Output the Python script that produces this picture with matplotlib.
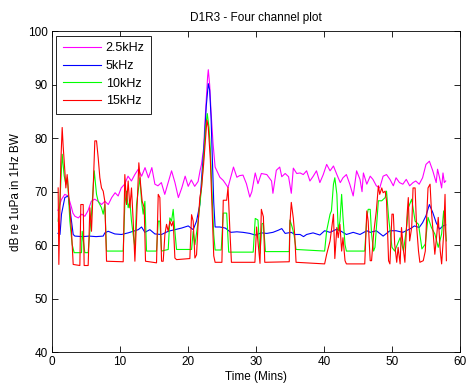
import numpy as np
import matplotlib.pyplot as plt

plt.rcParams['font.family'] = ['Liberation Sans', 'DejaVu Sans']

# 2.5kHz channel (time in minutes, level in dB)
t_25k = [0.9, 1.4, 1.9, 2.4, 2.9, 3.1, 3.4, 3.9, 4.4, 4.85, 5.3, 5.8, 6.3, 6.8,
         7.3, 7.8, 8.3, 8.8, 9.3, 9.75, 10.2, 10.7, 11.2, 11.7, 12.2, 12.7, 13.2,
         13.7, 14.2, 14.7, 15.15, 15.6, 16.1, 16.6, 17.1, 17.6, 18.1, 18.6, 19.1,
         19.6, 20.05, 20.5, 21.0, 21.5, 21.8, 22.0, 22.3, 22.6, 22.9, 23.0, 23.2,
         23.4, 23.7, 24.0, 24.7, 25.2, 25.9, 26.7, 27.2, 27.6, 28.1, 28.6, 29.1,
         29.4, 29.9, 30.3, 30.8, 31.6, 32.3, 32.5, 33.0, 33.5, 33.8, 34.3, 34.8,
         35.2, 35.5, 36.0, 36.5, 36.96, 37.45, 37.94, 38.43, 38.9, 39.4, 39.9,
         40.4, 40.9, 41.4, 41.9, 42.4, 42.8, 43.3, 43.8, 44.3, 44.8, 45.3, 45.6,
         45.8, 46.3, 46.8, 47.2, 47.7, 48.2, 48.7, 49.2, 49.7, 50.2, 50.6, 51.1,
         51.6, 52.1, 52.6, 53.1, 53.5, 54.0, 54.5, 55.0, 55.5, 56.0, 56.5, 56.7,
         57.0, 57.3, 57.5, 57.7, 57.9]
db_25k = [66.5, 68.5, 69.5, 69.2, 67.0, 66.0, 65.4, 65.1, 65.8, 65.4, 66.4, 68.2,
          68.6, 68.2, 67.6, 68.2, 67.6, 68.9, 69.8, 69.2, 70.7, 71.4, 72.9, 72.0,
          73.2, 74.2, 72.9, 74.5, 72.6, 74.5, 71.4, 71.1, 71.7, 69.5, 71.7, 73.9,
          71.7, 68.9, 70.7, 72.9, 71.0, 72.2, 71.0, 71.9, 74.0, 75.1, 78.0, 85.0,
          91.5, 92.8, 90.0, 85.0, 79.0, 74.6, 72.7, 72.1, 70.8, 74.6, 72.7, 73.0,
          73.1, 71.5, 69.0, 70.0, 73.5, 71.5, 73.4, 73.2, 72.0, 69.7, 74.0, 74.6,
          72.8, 73.4, 72.8, 69.7, 74.4, 73.4, 73.5, 73.2, 73.9, 72.0, 72.9, 73.9,
          71.7, 73.2, 75.1, 73.9, 74.8, 73.2, 71.7, 72.6, 73.2, 71.4, 69.2, 73.9,
          72.3, 70.0, 73.5, 71.4, 72.9, 72.3, 71.1, 70.7, 72.9, 73.2, 72.3, 71.1,
          72.6, 71.7, 71.4, 72.3, 71.1, 71.7, 72.0, 71.4, 72.6, 75.1, 75.7, 73.9,
          71.7, 74.2, 72.6, 70.7, 73.5, 71.7, 72.0]

# 5kHz channel
t_5k = [0.9, 1.2, 1.42, 1.91, 2.4, 2.65, 2.89, 3.14, 3.38, 4.5, 5.5, 6.5, 7.55,
        7.79, 8.28, 9.26, 10.24, 11.22, 12.7, 13.19, 13.68, 14.41, 15.15, 16.13,
        17.11, 18.09, 19.07, 20.05, 20.78, 21.27, 21.76, 22.1, 22.4, 22.7, 23.0,
        23.2, 23.4, 23.6, 23.8, 24.0, 24.7, 25.5, 26.3, 27.2, 28.1, 29.1, 29.9,
        30.8, 31.6, 32.5, 33.3, 33.8, 34.3, 35.2, 35.7, 36.5, 37.0, 37.45, 38.4,
        39.4, 40.1, 40.9, 41.9, 42.4, 43.3, 44.3, 45.3, 46.3, 46.8, 47.7, 48.7,
        49.7, 50.6, 51.6, 52.6, 53.3, 54.0, 54.5, 55.0, 55.5, 56.0, 56.5, 57.0,
        57.5, 57.9]
db_5k = [62.2, 62.0, 65.8, 68.9, 69.2, 67.0, 64.5, 62.0, 61.7, 61.6, 61.7, 61.6,
         61.7, 62.3, 62.6, 62.1, 62.0, 62.3, 62.9, 63.4, 62.4, 62.9, 62.1, 62.0,
         62.6, 62.9, 63.2, 63.6, 62.9, 64.5, 67.6, 74.0, 79.0, 86.0, 90.2, 89.0,
         84.0, 76.0, 68.0, 63.4, 63.4, 63.2, 62.4, 62.5, 62.4, 62.2, 61.9, 62.3,
         62.2, 62.4, 62.8, 63.1, 62.2, 62.4, 62.0, 62.0, 61.6, 62.0, 62.3, 61.9,
         62.7, 62.4, 63.0, 62.7, 62.0, 62.4, 62.0, 62.7, 62.4, 62.7, 61.7, 62.7,
         62.7, 62.4, 63.0, 63.6, 63.3, 64.2, 65.5, 67.6, 66.1, 64.2, 63.0, 63.6,
         63.8]

# 10kHz channel
t_10k = [0.93, 1.18, 1.52, 1.81, 2.06, 2.3, 2.65, 2.99, 3.28, 4.36, 4.46, 4.85,
         5.34, 5.59, 5.83, 6.23, 6.57, 6.81, 7.06, 7.3, 7.55, 7.79, 8.04, 10.49,
         10.73, 10.98, 11.22, 11.47, 11.71, 12.21, 12.45, 12.94, 13.19, 13.43,
         13.68, 13.92, 15.39, 15.64, 15.88, 16.13, 17.11, 17.35, 17.6, 17.84,
         18.09, 18.33, 20.54, 20.78, 21.03, 21.52, 22.0, 22.3, 22.6, 22.85, 23.1,
         23.3, 23.6, 23.8, 24.0, 24.9, 25.2, 25.7, 26.0, 29.6, 29.9, 30.3, 30.6,
         30.9, 31.1, 31.4, 34.9, 35.0, 35.3, 35.6, 35.9, 40.1, 40.4, 40.9, 41.1,
         41.4, 41.6, 41.9, 42.1, 42.35, 42.6, 42.8, 43.1, 43.3, 46.0, 46.3, 46.5,
         46.8, 47.0, 47.3, 47.5, 48.0, 48.5, 49.0, 49.2, 49.5, 50.0, 50.4, 51.2,
         51.7, 52.2, 52.4, 52.9, 53.4, 53.9, 54.4, 54.9, 55.3, 55.8, 56.3, 56.8,
         57.3, 57.6, 58.0]
db_10k = [64.5, 68.0, 77.0, 73.0, 71.4, 72.6, 64.5, 60.1, 58.6, 58.6, 62.6, 58.6,
          58.6, 62.6, 65.8, 73.9, 69.5, 68.2, 67.6, 67.0, 65.8, 67.6, 58.9, 58.9,
          67.6, 70.1, 67.0, 68.2, 64.5, 59.5, 67.6, 72.6, 68.2, 65.8, 68.2, 58.9,
          58.9, 64.5, 64.5, 58.9, 59.2, 65.1, 64.5, 66.7, 62.6, 59.2, 59.2, 62.6,
          60.1, 64.5, 70.7, 76.0, 82.0, 84.6, 82.0, 78.0, 68.0, 62.0, 59.1, 59.1,
          66.0, 66.0, 58.7, 58.7, 65.0, 64.7, 58.5, 64.0, 64.1, 58.8, 58.8, 64.7,
          63.5, 62.0, 59.2, 58.9, 62.7, 65.8, 66.4, 71.4, 72.6, 69.5, 62.7, 64.5,
          69.5, 65.2, 60.1, 58.9, 58.9, 65.2, 66.7, 66.7, 62.1, 58.9, 59.6, 68.3,
          68.3, 68.9, 70.1, 65.2, 59.6, 58.9, 61.4, 58.9, 63.9, 67.0, 68.6, 64.5,
          63.9, 59.3, 60.2, 65.2, 63.3, 62.1, 59.6, 62.1, 66.4, 60.8]

# 15kHz channel
t_15k = [0.93, 1.03, 1.32, 1.52, 1.67, 1.91, 2.06, 2.25, 2.4, 2.65, 2.89, 3.14,
         4.12, 4.26, 4.61, 4.75, 5.34, 5.59, 5.83, 6.08, 6.32, 6.57, 6.81, 7.06,
         7.3, 7.55, 7.79, 8.04, 10.49, 10.73, 10.98, 11.22, 11.47, 11.71, 11.96,
         12.21, 12.45, 12.79, 13.09, 13.28, 13.58, 13.77, 15.39, 15.64, 15.88,
         16.13, 16.37, 16.62, 16.86, 17.11, 17.35, 17.6, 17.84, 18.09, 18.33,
         20.29, 20.54, 20.78, 21.03, 21.27, 21.52, 21.76, 22.0, 22.3, 22.6, 22.8,
         23.0, 23.3, 23.6, 23.8, 24.0, 25.0, 25.2, 25.7, 25.9, 26.2, 26.4, 29.85,
         30.1, 30.6, 30.8, 31.1, 31.3, 34.9, 35.0, 35.2, 35.5, 35.7, 35.9, 40.1,
         40.4, 40.9, 41.4, 41.6, 41.9, 42.1, 42.35, 42.6, 42.8, 43.1, 43.3, 46.0,
         46.3, 46.5, 46.8, 47.0, 47.3, 47.7, 48.0, 48.2, 48.5, 48.7, 49.0, 49.2,
         49.5, 49.7, 50.0, 50.2, 50.4, 50.7, 50.9, 51.2, 51.4, 51.7, 51.9, 52.2,
         52.4, 52.6, 52.9, 53.1, 53.4, 53.6, 53.9, 54.1, 54.6, 54.9, 55.1, 55.3,
         55.6, 55.8, 56.1, 56.3, 56.6, 56.8, 57.1, 57.3, 57.6, 57.8, 58.0]
db_15k = [70.7, 56.4, 75.5, 82.0, 78.4, 73.9, 70.7, 73.2, 70.7, 66.4, 62.6, 56.4,
          56.2, 67.6, 67.6, 56.2, 56.2, 67.0, 62.6, 70.7, 79.5, 79.5, 76.4, 72.6,
          70.7, 70.1, 68.2, 57.0, 56.9, 73.2, 67.6, 72.0, 67.0, 70.7, 64.5, 57.0,
          64.5, 75.4, 70.7, 68.2, 67.0, 57.0, 56.7, 69.5, 68.9, 57.0, 57.0, 62.0,
          63.9, 62.6, 64.5, 63.6, 64.5, 57.6, 57.3, 57.5, 65.7, 64.5, 57.6, 58.2,
          64.5, 68.9, 70.7, 75.0, 80.0, 83.4, 82.0, 76.0, 65.0, 58.0, 56.8, 56.8,
          68.4, 68.4, 70.8, 62.0, 56.8, 56.8, 63.4, 56.6, 66.7, 65.3, 56.8, 56.9,
          64.0, 68.0, 65.0, 62.0, 56.8, 56.5, 58.3, 60.8, 65.8, 57.5, 63.3, 61.4,
          63.9, 58.9, 61.4, 57.1, 56.5, 56.5, 66.4, 64.5, 57.1, 57.1, 62.1, 66.4,
          71.1, 69.5, 70.7, 69.8, 70.1, 68.3, 57.1, 56.5, 65.8, 65.8, 60.2, 56.8,
          59.6, 56.5, 63.3, 58.9, 56.8, 65.2, 68.9, 60.8, 63.3, 70.7, 70.7, 63.9,
          58.9, 56.8, 57.1, 58.9, 65.2, 70.7, 71.4, 66.4, 61.4, 58.3, 62.1, 65.2,
          58.9, 56.5, 62.1, 69.5, 57.1]

labels = ['2.5kHz', '5kHz', '10kHz', '15kHz']
colors = ['#ff00ff', '#0000ff', '#00ff00', '#ff0000']

fig = plt.figure(figsize=(4.67, 3.9), dpi=100)
ax = fig.add_axes([0.111, 0.097, 0.874, 0.823])

series = [(t_25k, db_25k), (t_5k, db_5k), (t_10k, db_10k), (t_15k, db_15k)]
for (t, db), lab, col in zip(series, labels, colors):
    ax.plot(t, db, color=col, lw=0.8, label=lab)

ax.set_xlim(0, 60)
ax.set_ylim(40, 100)
ax.set_xticks(range(0, 61, 10))
ax.set_yticks(range(40, 101, 10))
ax.tick_params(direction='in', length=4, width=0.6, top=True, right=True,
               labelsize=8.5, pad=3)
for s in ax.spines.values():
    s.set_linewidth(0.6)

ax.set_title('D1R3 - Four channel plot', fontsize=8.5, pad=7)
ax.set_xlabel('Time (Mins)', fontsize=8.5, labelpad=2)
ax.set_ylabel('dB re 1uPa in 1Hz BW', fontsize=8.5, labelpad=4)

leg = ax.legend(loc='upper left', fontsize=9, handlelength=3.0,
                handletextpad=0.4, labelspacing=0.45, borderpad=0.55,
                fancybox=False, framealpha=1, edgecolor='black',
                borderaxespad=0.35)
leg.get_frame().set_linewidth(0.6)

fig.savefig('out.png', dpi=100, facecolor='white')
